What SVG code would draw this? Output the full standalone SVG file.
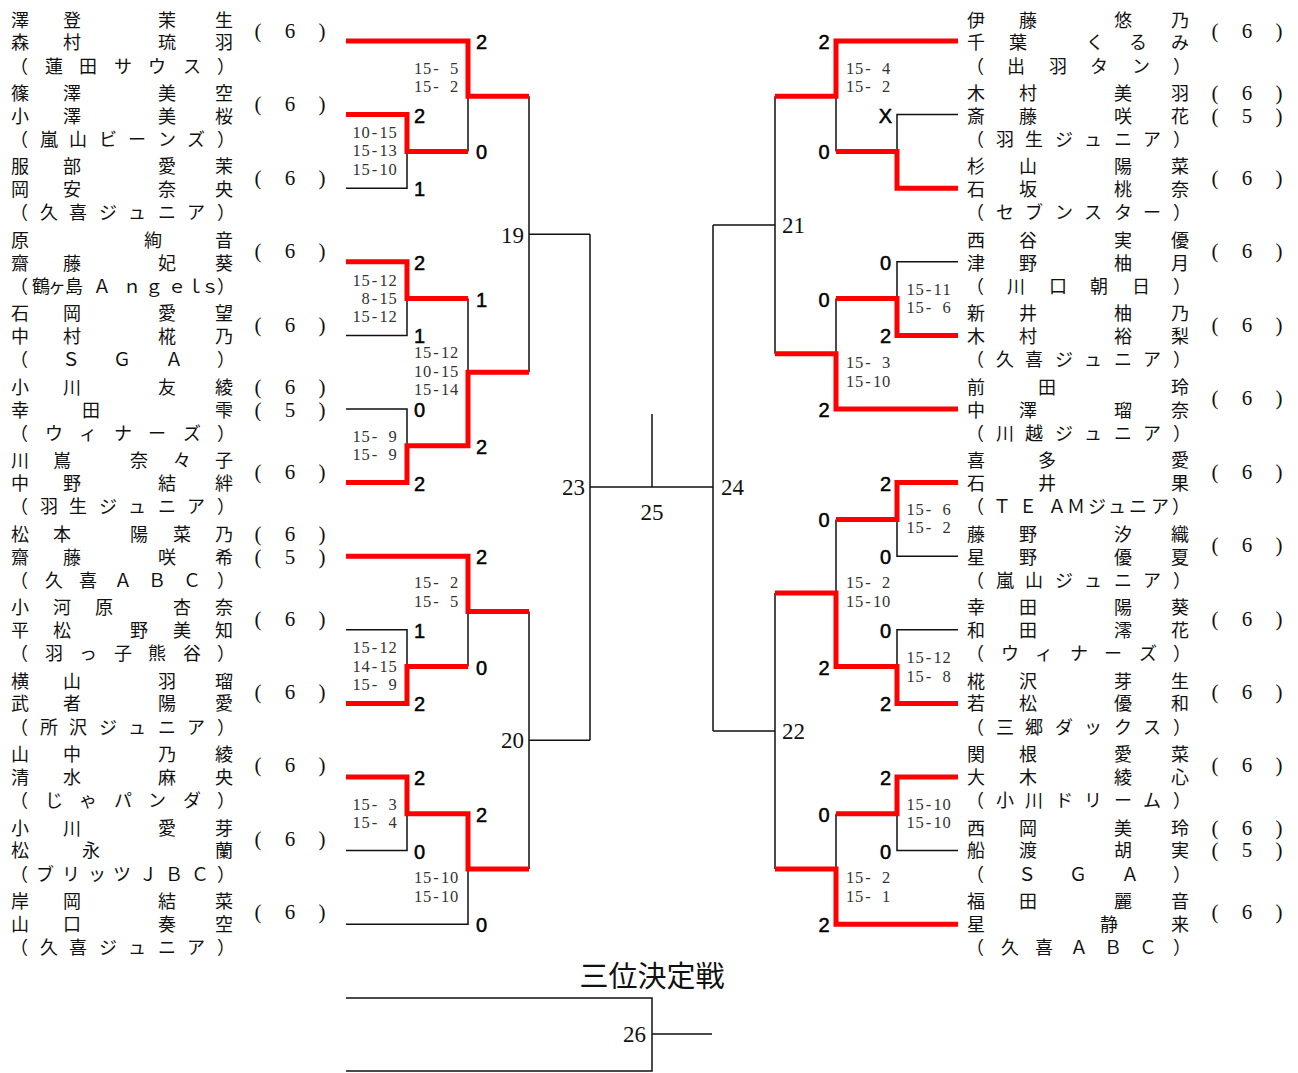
<svg xmlns="http://www.w3.org/2000/svg" width="1298" height="1073" viewBox="0 0 1298 1073">
<style>
.n{font-family:"Noto Sans CJK JP","Noto Sans CJK SC",sans-serif;font-size:18px;fill:#111;text-anchor:middle}
.s{font-family:"Liberation Serif",serif;font-size:21px;fill:#111;text-anchor:middle;white-space:pre}
.sc{font-family:"Liberation Sans",Arial,sans-serif;font-size:20px;fill:#000;stroke:#000;stroke-width:0.5;text-anchor:middle}
.g{font-family:"Liberation Serif",serif;font-size:16.5px;fill:#333;text-anchor:middle;white-space:pre}
.r{font-family:"Liberation Serif",serif;font-size:23px;fill:#111}
.t{font-family:"Noto Sans CJK JP",sans-serif;font-size:29px;fill:#111;text-anchor:middle}
.k{fill:none;stroke:#111;stroke-width:1.5}
.red{fill:none;stroke:#f00;stroke-width:5}
</style>
<rect width="1298" height="1073" fill="#fff"/>
<g id="connectors">
<path class="k" d="M346 188.2H407V151.4M468 96.2V151.4M346 335.4H407V298.6M346 409H407V445.8M468 298.6V372.2M529 96.2V372.2M529 234.2H590M346 629.8H407V666.6M468 611.4V666.6M346 850.6H407V813.8M346 924.2H468V869M529 611.4V869M529 740.2H590M590 234.2V740.2M590 487H713M652 414V487"/>
<path class="k" d="M958 114.6H897V151.4M836 96.2V151.4M958 261.8H897V298.6M836 298.6V353.8M775 96.2V353.8M775 225H713M958 556.2H897V519.4M958 629.8H897V666.6M836 519.4V593M958 850.6H897V813.8M836 813.8V869M775 593V869M775 731H713M713 225V731"/>
<path class="k" d="M346 998H652V1071H346M652 1034H712"/>
<path class="red" d="M346 41H468V96.2H529M346 114.6H407V151.4H468M346 261.8H407V298.6H468M346 482.6H407V445.8H468V372.2H529M346 556.2H468V611.4H529M346 703.4H407V666.6H468M346 777H407V813.8H468V869H529"/>
<path class="red" d="M958 41H836V96.2H775M958 188.2H897V151.4H836M958 335.4H897V298.6H836M958 409H836V353.8H775M958 482.6H897V519.4H836M958 703.4H897V666.6H836V593H775M958 777H897V813.8H836M958 924.2H836V869H775"/>
</g>
<g id="L01"><text class="n" x="20 72 167 224" y="26.5">澤登茉生</text><text class="n" x="20 72 167 224" y="49.3">森村琉羽</text><text class="n" x="19 54 88 123 157 192 226" y="72.5">（蓮田サウス）</text><text class="s" x="258 274 290 306 322" y="37.9">( 6 )</text></g>
<g id="L02"><text class="n" x="20 72 167 224" y="100">篠澤美空</text><text class="n" x="20 72 167 224" y="122.8">小澤美桜</text><text class="n" x="19 49 78 108 137 167 196 226" y="146">（嵐山ビーンズ）</text><text class="s" x="258 274 290 306 322" y="111.4">( 6 )</text></g>
<g id="L03"><text class="n" x="20 72 167 224" y="173.4">服部愛茉</text><text class="n" x="20 72 167 224" y="196.2">岡安奈央</text><text class="n" x="19 49 78 108 137 167 196 226" y="219.4">（久喜ジュニア）</text><text class="s" x="258 274 290 306 322" y="184.8">( 6 )</text></g>
<g id="L04"><text class="n" x="20 153 224" y="246.9">原絢音</text><text class="n" x="20 72 167 224" y="269.7">齋藤妃葵</text><text class="n" x="19 41 57 74 102 132 154 177 195 210 226" y="292.9">（鶴ヶ島Ａｎｇｅｌｓ）</text><text class="s" x="258 274 290 306 322" y="258.3">( 6 )</text></g>
<g id="L05"><text class="n" x="20 72 167 224" y="320.3">石岡愛望</text><text class="n" x="20 72 167 224" y="343.1">中村椛乃</text><text class="n" x="19 71 122 174 226" y="366.3">（ＳＧＡ）</text><text class="s" x="258 274 290 306 322" y="331.7">( 6 )</text></g>
<g id="L06"><text class="n" x="20 72 167 224" y="393.8">小川友綾</text><text class="n" x="20 91 224" y="416.6">幸田雫</text><text class="n" x="19 54 88 123 157 192 226" y="439.8">（ウィナーズ）</text><text class="s" x="258 274 290 306 322" y="393.9">( 6 )</text><text class="s" x="258 274 290 306 322" y="416.7">( 5 )</text></g>
<g id="L07"><text class="n" x="20 62 139 182 224" y="467.2">川嶌奈々子</text><text class="n" x="20 72 167 224" y="490">中野結絆</text><text class="n" x="19 49 78 108 137 167 196 226" y="513.2">（羽生ジュニア）</text><text class="s" x="258 274 290 306 322" y="478.6">( 6 )</text></g>
<g id="L08"><text class="n" x="20 62 139 182 224" y="540.7">松本陽菜乃</text><text class="n" x="20 72 167 224" y="563.5">齋藤咲希</text><text class="n" x="19 54 88 123 157 192 226" y="586.7">（久喜ＡＢＣ）</text><text class="s" x="258 274 290 306 322" y="540.8">( 6 )</text><text class="s" x="258 274 290 306 322" y="563.6">( 5 )</text></g>
<g id="L09"><text class="n" x="20 62 104 182 224" y="614.1">小河原杏奈</text><text class="n" x="20 62 139 182 224" y="636.9">平松野美知</text><text class="n" x="19 54 88 123 157 192 226" y="660.1">（羽っ子熊谷）</text><text class="s" x="258 274 290 306 322" y="625.5">( 6 )</text></g>
<g id="L10"><text class="n" x="20 72 167 224" y="687.6">横山羽瑠</text><text class="n" x="20 72 167 224" y="710.4">武者陽愛</text><text class="n" x="19 49 78 108 137 167 196 226" y="733.6">（所沢ジュニア）</text><text class="s" x="258 274 290 306 322" y="699">( 6 )</text></g>
<g id="L11"><text class="n" x="20 72 167 224" y="761">山中乃綾</text><text class="n" x="20 72 167 224" y="783.8">清水麻央</text><text class="n" x="19 54 88 123 157 192 226" y="807">（じゃパンダ）</text><text class="s" x="258 274 290 306 322" y="772.4">( 6 )</text></g>
<g id="L12"><text class="n" x="20 72 167 224" y="834.5">小川愛芽</text><text class="n" x="20 91 224" y="857.3">松永蘭</text><text class="n" x="19 45 71 97 122 148 174 200 226" y="880.5">（ブリッツＪＢＣ）</text><text class="s" x="258 274 290 306 322" y="845.9">( 6 )</text></g>
<g id="L13"><text class="n" x="20 72 167 224" y="907.9">岸岡結菜</text><text class="n" x="20 72 167 224" y="930.7">山口奏空</text><text class="n" x="19 49 78 108 137 167 196 226" y="953.9">（久喜ジュニア）</text><text class="s" x="258 274 290 306 322" y="919.3">( 6 )</text></g>
<g id="R01"><text class="n" x="976 1028 1123 1180" y="26.5">伊藤悠乃</text><text class="n" x="976 1018 1095 1138 1180" y="49.3">千葉くるみ</text><text class="n" x="975 1016 1058 1099 1141 1182" y="72.5">（出羽タン）</text><text class="s" x="1215 1231 1247 1263 1279" y="37.9">( 6 )</text></g>
<g id="R02"><text class="n" x="976 1028 1123 1180" y="100">木村美羽</text><text class="n" x="976 1028 1123 1180" y="122.8">斎藤咲花</text><text class="n" x="975 1005 1034 1064 1093 1123 1152 1182" y="146">（羽生ジュニア）</text><text class="s" x="1215 1231 1247 1263 1279" y="100.1">( 6 )</text><text class="s" x="1215 1231 1247 1263 1279" y="122.9">( 5 )</text></g>
<g id="R03"><text class="n" x="976 1028 1123 1180" y="173.4">杉山陽菜</text><text class="n" x="976 1028 1123 1180" y="196.2">石坂桃奈</text><text class="n" x="975 1005 1034 1064 1093 1123 1152 1182" y="219.4">（セブンスター）</text><text class="s" x="1215 1231 1247 1263 1279" y="184.8">( 6 )</text></g>
<g id="R04"><text class="n" x="976 1028 1123 1180" y="246.9">西谷実優</text><text class="n" x="976 1028 1123 1180" y="269.7">津野柚月</text><text class="n" x="975 1016 1058 1099 1141 1182" y="292.9">（川口朝日）</text><text class="s" x="1215 1231 1247 1263 1279" y="258.3">( 6 )</text></g>
<g id="R05"><text class="n" x="976 1028 1123 1180" y="320.3">新井柚乃</text><text class="n" x="976 1028 1123 1180" y="343.1">木村裕梨</text><text class="n" x="975 1005 1034 1064 1093 1123 1152 1182" y="366.3">（久喜ジュニア）</text><text class="s" x="1215 1231 1247 1263 1279" y="331.7">( 6 )</text></g>
<g id="R06"><text class="n" x="976 1047 1180" y="393.8">前田玲</text><text class="n" x="976 1028 1123 1180" y="416.6">中澤瑠奈</text><text class="n" x="975 1005 1034 1064 1093 1123 1152 1182" y="439.8">（川越ジュニア）</text><text class="s" x="1215 1231 1247 1263 1279" y="405.2">( 6 )</text></g>
<g id="R07"><text class="n" x="976 1047 1180" y="467.2">喜多愛</text><text class="n" x="976 1047 1180" y="490">石井果</text><text class="n" x="975 1002 1028 1057 1076 1097 1117 1138 1160 1181" y="513.2">（ＴＥＡＭジュニア）</text><text class="s" x="1215 1231 1247 1263 1279" y="478.6">( 6 )</text></g>
<g id="R08"><text class="n" x="976 1028 1123 1180" y="540.7">藤野汐織</text><text class="n" x="976 1028 1123 1180" y="563.5">星野優夏</text><text class="n" x="975 1005 1034 1064 1093 1123 1152 1182" y="586.7">（嵐山ジュニア）</text><text class="s" x="1215 1231 1247 1263 1279" y="552.1">( 6 )</text></g>
<g id="R09"><text class="n" x="976 1028 1123 1180" y="614.1">幸田陽葵</text><text class="n" x="976 1028 1123 1180" y="636.9">和田澪花</text><text class="n" x="975 1010 1044 1079 1113 1148 1182" y="660.1">（ウィナーズ）</text><text class="s" x="1215 1231 1247 1263 1279" y="625.5">( 6 )</text></g>
<g id="R10"><text class="n" x="976 1028 1123 1180" y="687.6">椛沢芽生</text><text class="n" x="976 1028 1123 1180" y="710.4">若松優和</text><text class="n" x="975 1005 1034 1064 1093 1123 1152 1182" y="733.6">（三郷ダックス）</text><text class="s" x="1215 1231 1247 1263 1279" y="699">( 6 )</text></g>
<g id="R11"><text class="n" x="976 1028 1123 1180" y="761">関根愛菜</text><text class="n" x="976 1028 1123 1180" y="783.8">大木綾心</text><text class="n" x="975 1005 1034 1064 1093 1123 1152 1182" y="807">（小川ドリーム）</text><text class="s" x="1215 1231 1247 1263 1279" y="772.4">( 6 )</text></g>
<g id="R12"><text class="n" x="976 1028 1123 1180" y="834.5">西岡美玲</text><text class="n" x="976 1028 1123 1180" y="857.3">船渡胡実</text><text class="n" x="975 1027 1078 1130 1182" y="880.5">（ＳＧＡ）</text><text class="s" x="1215 1231 1247 1263 1279" y="834.6">( 6 )</text><text class="s" x="1215 1231 1247 1263 1279" y="857.4">( 5 )</text></g>
<g id="R13"><text class="n" x="976 1028 1123 1180" y="907.9">福田麗音</text><text class="n" x="976 1109 1180" y="930.7">星静来</text><text class="n" x="975 1010 1044 1079 1113 1148 1182" y="953.9">（久喜ＡＢＣ）</text><text class="s" x="1215 1231 1247 1263 1279" y="919.3">( 6 )</text></g>
<g id="match-scores">
<text class="sc" x="481.5" y="49">2</text><text class="sc" x="419.5" y="122.6">2</text><text class="sc" x="481.5" y="159.4">0</text><text class="sc" x="419.5" y="196.2">1</text>
<text class="sc" x="419.5" y="269.8">2</text><text class="sc" x="481.5" y="306.6">1</text><text class="sc" x="419.5" y="343.4">1</text><text class="sc" x="419.5" y="417">0</text><text class="sc" x="419.5" y="490.6">2</text><text class="sc" x="481.5" y="453.8">2</text>
<text class="sc" x="481.5" y="564.2">2</text><text class="sc" x="419.5" y="637.8">1</text><text class="sc" x="419.5" y="711.4">2</text><text class="sc" x="481.5" y="674.6">0</text>
<text class="sc" x="419.5" y="785">2</text><text class="sc" x="481.5" y="821.8">2</text><text class="sc" x="419.5" y="858.6">0</text><text class="sc" x="481.5" y="932.2">0</text>
<text class="sc" x="824" y="49">2</text><text class="sc" x="885.5" y="122.6">X</text><text class="sc" x="824" y="159.4">0</text>
<text class="sc" x="885.5" y="269.8">0</text><text class="sc" x="885.5" y="343.4">2</text><text class="sc" x="824" y="306.6">0</text><text class="sc" x="824" y="417">2</text>
<text class="sc" x="885.5" y="490.6">2</text><text class="sc" x="885.5" y="564.2">0</text><text class="sc" x="824" y="527.4">0</text><text class="sc" x="885.5" y="637.8">0</text><text class="sc" x="885.5" y="711.4">2</text><text class="sc" x="824" y="674.6">2</text>
<text class="sc" x="885.5" y="785">2</text><text class="sc" x="885.5" y="858.6">0</text><text class="sc" x="824" y="821.8">0</text><text class="sc" x="824" y="932.2">2</text>
</g>
<g id="game-scores">
<text class="g" x="356.5 365.5 374.5 383.5 392.5" y="138.1">10-15</text><text class="g" x="356.5 365.5 374.5 383.5 392.5" y="156.4">15-13</text><text class="g" x="356.5 365.5 374.5 383.5 392.5" y="174.7">15-10</text>
<text class="g" x="356.5 365.5 374.5 383.5 392.5" y="285.6">15-12</text><text class="g" x="365.5 374.5 383.5 392.5" y="303.9">8-15</text><text class="g" x="356.5 365.5 374.5 383.5 392.5" y="322.2">15-12</text>
<text class="g" x="356.5 365.5 374.5 383.5 392.5" y="441.6">15- 9</text><text class="g" x="356.5 365.5 374.5 383.5 392.5" y="459.6">15- 9</text>
<text class="g" x="356.5 365.5 374.5 383.5 392.5" y="653.1">15-12</text><text class="g" x="356.5 365.5 374.5 383.5 392.5" y="671.6">14-15</text><text class="g" x="356.5 365.5 374.5 383.5 392.5" y="689.6">15- 9</text>
<text class="g" x="356.5 365.5 374.5 383.5 392.5" y="809.6">15- 3</text><text class="g" x="356.5 365.5 374.5 383.5 392.5" y="828.1">15- 4</text>
<text class="g" x="418 427 436 445 454" y="73.6">15- 5</text><text class="g" x="418 427 436 445 454" y="91.6">15- 2</text>
<text class="g" x="418 427 436 445 454" y="357.6">15-12</text><text class="g" x="418 427 436 445 454" y="376.6">10-15</text><text class="g" x="418 427 436 445 454" y="394.6">15-14</text>
<text class="g" x="418 427 436 445 454" y="588.1">15- 2</text><text class="g" x="418 427 436 445 454" y="606.6">15- 5</text>
<text class="g" x="418 427 436 445 454" y="883.1">15-10</text><text class="g" x="418 427 436 445 454" y="901.6">15-10</text>
<text class="g" x="850 859 868 877 886" y="73.6">15- 4</text><text class="g" x="850 859 868 877 886" y="91.6">15- 2</text>
<text class="g" x="850 859 868 877 886" y="368.1">15- 3</text><text class="g" x="850 859 868 877 886" y="386.6">15-10</text>
<text class="g" x="850 859 868 877 886" y="588.1">15- 2</text><text class="g" x="850 859 868 877 886" y="606.6">15-10</text>
<text class="g" x="850 859 868 877 886" y="883.1">15- 2</text><text class="g" x="850 859 868 877 886" y="901.6">15- 1</text>
<text class="g" x="910.5 919.5 928.5 937.5 946.5" y="294.6">15-11</text><text class="g" x="910.5 919.5 928.5 937.5 946.5" y="313.1">15- 6</text>
<text class="g" x="910.5 919.5 928.5 937.5 946.5" y="514.6">15- 6</text><text class="g" x="910.5 919.5 928.5 937.5 946.5" y="533.1">15- 2</text>
<text class="g" x="910.5 919.5 928.5 937.5 946.5" y="663.1">15-12</text><text class="g" x="910.5 919.5 928.5 937.5 946.5" y="681.6">15- 8</text>
<text class="g" x="910.5 919.5 928.5 937.5 946.5" y="809.6">15-10</text><text class="g" x="910.5 919.5 928.5 937.5 946.5" y="828.1">15-10</text>
</g>
<g id="rounds">
<text class="r" x="524" y="243" text-anchor="end">19</text>
<text class="r" x="524" y="748" text-anchor="end">20</text>
<text class="r" x="585" y="495" text-anchor="end">23</text>
<text class="r" x="782" y="233">21</text>
<text class="r" x="782" y="739">22</text>
<text class="r" x="721" y="495">24</text>
<text class="r" x="652" y="520" text-anchor="middle">25</text>
<text class="r" x="646" y="1042" text-anchor="end">26</text>
<text class="t" x="652" y="987">三位決定戦</text>
</g>
</svg>
